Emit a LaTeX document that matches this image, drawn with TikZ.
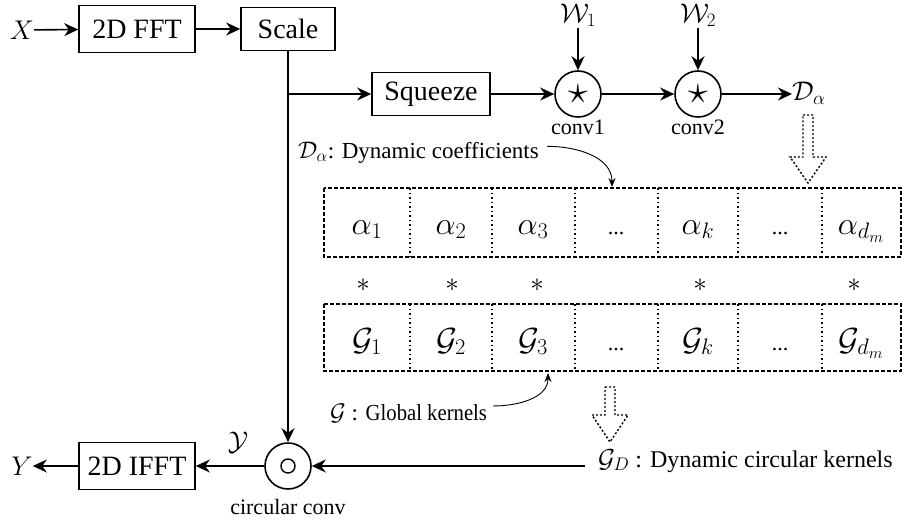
\RequirePackage{fix-cm}
\documentclass[tikz,border=0pt]{standalone}
\usepackage{fontspec}
\usepackage{graphicx}
\setmainfont{Liberation Serif}
\usetikzlibrary{arrows.meta,calc}
\tikzset{
  box/.style={draw, line width=1.6pt, inner sep=0pt, font=\fontsize{28}{32}\selectfont},
  op/.style={draw, circle, line width=1.6pt, minimum size=46pt, inner sep=0pt},
  arr/.style={-{Stealth[length=14pt,width=13pt]}, line width=1.6pt},
  lab/.style={inner sep=0pt, font=\fontsize{22}{26}\selectfont},
  mth/.style={inner sep=0pt, font=\fontsize{27}{30}\selectfont},
  cellm/.style={inner sep=0pt, anchor=base, font=\fontsize{32}{36}\selectfont},
  dots/.style={inner sep=0pt, anchor=base, font=\fontsize{22}{26}\selectfont},
  tbl/.style={draw, line width=1.4pt, dash pattern=on 4pt off 2pt},
  sepline/.style={line width=1.4pt, dash pattern=on 1.5pt off 3pt},
  hollow/.style={draw, line width=1.4pt, dash pattern=on 2pt off 2pt, fill=white},
  thinarr/.style={-{Stealth[length=9pt,width=7pt]}, line width=0.9pt},
  starop/.style={font=\fontsize{40}{40}\selectfont},
}
\begin{document}
\begin{tikzpicture}[x=1pt,y=-1pt]
\useasboundingbox (0,0) rectangle (902,520);
% top row
\node[mth] (X) at (22,30) {$X$};
\node[box, minimum width=116pt, minimum height=47pt] (fft) at (137,29) {2D FFT};
\node[box, minimum width=94pt, minimum height=43pt] (scale) at (288,29) {Scale};
\draw[arr] (X) -- (fft);
\draw[arr] (fft) -- (scale);
% squeeze branch
\node[box, minimum width=118pt, minimum height=43pt] (sq) at (431,94) {Squeeze};
\coordinate (br) at (288,94);
\draw[arr] (br) -- (sq);
\node[op, starop] (c1) at (578,94) {$\star$};
\node[op, starop] (c2) at (698,94) {$\star$};
\node[lab] (l1) at (578,127) {conv1};
\node[lab] (l2) at (698,127) {conv2};
\node[mth, anchor=base] (W1) at (578,22) {$\mathcal{W}_1$};
\node[mth, anchor=base] (W2) at (698,22) {$\mathcal{W}_2$};
\coordinate (w1s) at (578,28);
\coordinate (w2s) at (698,28);
\draw[arr] (w1s) -- (c1);
\draw[arr] (w2s) -- (c2);
\draw[arr] (sq) -- (c1);
\draw[arr] (c1) -- (c2);
\node[mth, anchor=base west] (Da) at (792,100) {$\mathcal{D}_\alpha$};
\draw[arr] (c2) -- (Da.west |- c2);
% hollow arrow 1
\draw[hollow] (803,115) -- (813,115) -- (813,157) -- (826,157) -- (808,183) -- (790,157) -- (803,157) -- cycle;
% dynamic coefficients label
\node[lab, anchor=base west, font=\fontsize{23}{26}\selectfont] (dc) at (298,158) {{\fontsize{24}{26}\selectfont$\mathcal{D}_\alpha$}: Dynamic coefficients};
\coordinate (dctip) at (612,187);
\draw[thinarr] ($(dc.east)+(8,-6)$) to[out=0,in=90] (dctip);
% alpha table
\draw[tbl] (324,188) rectangle (901,257);
\foreach \x in {410,492,575,658,738,822} \draw[sepline] (\x,188) -- (\x,257);
\node[cellm] (a1) at (367,234) {$\alpha_1$};
\node[cellm] (a2) at (451,234) {$\alpha_2$};
\node[cellm] (a3) at (533,234) {$\alpha_3$};
\node[dots]  (a4) at (616,234) {...};
\node[cellm] (a5) at (698,234) {$\alpha_k$};
\node[dots]  (a6) at (780,234) {...};
\node[cellm] (a7) at (861,234) {$\alpha_{d_m}$};
% stars
\foreach \x/\n in {363/s1,452/s2,537/s3,700/s4,854/s5} \node[mth] (\n) at (\x,285) {$*$};
% G table
\draw[tbl] (324,304) rectangle (901,371);
\foreach \x in {410,492,575,658,738,822} \draw[sepline] (\x,304) -- (\x,371);
\node[cellm] (g1) at (367,350) {$\mathcal{G}_1$};
\node[cellm] (g2) at (451,350) {$\mathcal{G}_2$};
\node[cellm] (g3) at (533,350) {$\mathcal{G}_3$};
\node[dots]  (g4) at (616,350) {...};
\node[cellm] (g5) at (698,350) {$\mathcal{G}_k$};
\node[dots]  (g6) at (780,350) {...};
\node[cellm] (g7) at (861,350) {$\mathcal{G}_{d_m}$};
% global kernels label
\node[lab, anchor=base west, font=\fontsize{23}{26}\selectfont] (gk) at (330,420) {{\fontsize{24}{26}\selectfont$\mathcal{G}$} : \scalebox{0.9}[1]{Global kernels}};
\coordinate (gktip) at (548,373);
\draw[thinarr] ($(gk.east)+(6,-7)$) to[out=0,in=-90] (gktip);
% hollow arrow 2
\draw[hollow] (605,387) -- (615,387) -- (615,415) -- (628,415) -- (610,442) -- (592,415) -- (605,415) -- cycle;
% bottom row
\node[op] (cc) at (288,466) {};
\draw[line width=1.4pt] (cc.center) circle (7pt);
\draw[arr] (scale) -- (cc);
\node[lab, anchor=base west, font=\fontsize{24}{28}\selectfont] (gd) at (598,467) {{\fontsize{26}{28}\selectfont$\mathcal{G}_D$} : Dynamic circular kernels};
\coordinate (gdl) at (585,466);
\draw[arr] (gdl) -- (cc.east);
\node[box, minimum width=116pt, minimum height=47pt] (ifft) at (137,466) {2D IFFT};
\node[mth] (Ycal) at (238,443) {$\mathcal{Y}$};
\node[mth] (Y) at (22,466) {$Y$};
\draw[arr] (cc) -- (ifft);
\draw[arr] (ifft) -- (Y);
\node[lab] (clab) at (288,507) {circular conv};
\end{tikzpicture}
\end{document}
